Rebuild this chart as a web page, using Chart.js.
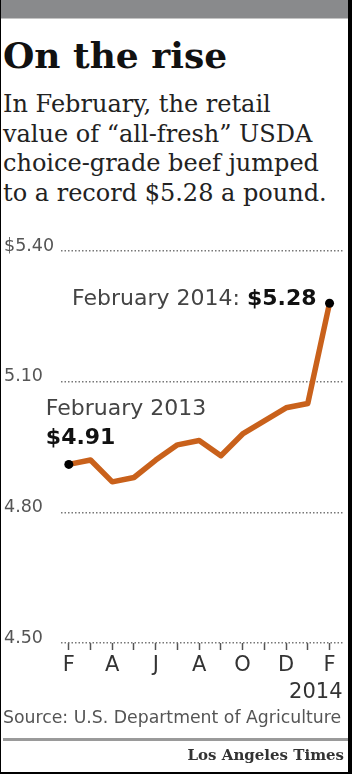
<!DOCTYPE html>
<html>
<head>
<meta charset="utf-8">
<script src="https://cdn.jsdelivr.net/npm/chart.js@4.4.0/dist/chart.umd.min.js"></script>
<style>
  html, body { margin: 0; padding: 0; background: #000; }
  #page { position: relative; width: 347px; height: 772px; background: #fff; border-left: 1px solid #000; overflow: hidden; }
  #bar { position: absolute; left: 0; top: 0; width: 347px; height: 18px; background: #898a8c; border-bottom: 1px solid #c4c4c4; }
  .t { position: absolute; white-space: nowrap; }
  #title { left: 2px; top: 33px; font-family: "DejaVu Serif", serif; font-weight: bold; font-size: 36px; line-height: 44px; color: #111; }
  #sub { left: 2px; top: 90px; font-family: "DejaVu Serif", serif; font-size: 24px; line-height: 29.6px; color: #222; }
  #chartBox { position: absolute; left: -1px; top: 230px; width: 352px; height: 480px; }
  #source { left: 2px; top: 707px; font-family: "DejaVu Sans", sans-serif; font-size: 17.3px; color: #555; }
  #rule { position: absolute; left: 2px; top: 738px; width: 345px; height: 3px; background: #9a9a9a; }
  #lat { right: 4px; top: 746px; font-family: "DejaVu Serif", serif; font-weight: bold; font-size: 15px; color: #333; }
</style>
</head>
<body>
<div id="page">
  <div id="bar"></div>
  <div id="title" class="t">On the rise</div>
  <div id="sub" class="t">In February, the retail<br>value of “all-fresh” USDA<br>choice-grade beef jumped<br>to a record $5.28 a pound.</div>
  <div id="chartBox"><canvas id="c" width="352" height="480"></canvas></div>
  <div id="source" class="t">Source: U.S. Department of Agriculture</div>
  <div id="rule"></div>
  <div id="lat" class="t">Los Angeles Times</div>
</div>
<script>
// Data: monthly retail value, Feb 2013 – Feb 2014 ($ per pound)
const months = ['Feb 2013','Mar','Apr','May','Jun','Jul','Aug','Sep','Oct','Nov','Dec','Jan','Feb 2014'];
const values = [4.91, 4.92, 4.87, 4.88, 4.92, 4.955, 4.965, 4.93, 4.98, 5.01, 5.04, 5.05, 5.28];
const xTickLabels = ['F','','A','','J','','A','','O','','D','','F'];
const yTickValues = [4.50, 4.80, 5.10, 5.40];
const yTickLabels = ['4.50', '4.80', '5.10', '$5.40'];
const startLabel = ['February 2013', '$4.91'];
const endLabel = ['February 2014: ', '$5.28'];
const yearLabel = '2014';

const SANS = '"DejaVu Sans", sans-serif';

const annotations = {
  id: 'annotations',
  afterDatasetsDraw(chart) {
    const ctx = chart.ctx;
    const pts = chart.getDatasetMeta(0).data;
    const p0 = pts[0], pN = pts[pts.length - 1];
    ctx.save();
    ctx.textBaseline = 'alphabetic';
    // start label
    ctx.textAlign = 'left';
    ctx.font = '22px ' + SANS;
    ctx.fillStyle = '#444';
    ctx.fillText(startLabel[0], p0.x - 23, p0.y - 49);
    ctx.font = 'bold 22px ' + SANS;
    ctx.fillStyle = '#111';
    ctx.fillText(startLabel[1], p0.x - 23, p0.y - 20);
    // end label
    ctx.textAlign = 'right';
    ctx.font = 'bold 22px ' + SANS;
    const wBold = ctx.measureText(endLabel[1]).width;
    const right = pN.x - 13;
    ctx.fillStyle = '#111';
    ctx.fillText(endLabel[1], right, pN.y + 1.5);
    ctx.font = '22px ' + SANS;
    ctx.fillStyle = '#444';
    ctx.fillText(endLabel[0], right - wBold, pN.y + 1.5);
    // year under last tick
    const xs = chart.scales.x;
    ctx.font = '21px ' + SANS;
    ctx.fillStyle = '#333';
    ctx.textAlign = 'right';
    ctx.fillText(yearLabel, xs.getPixelForValue(months.length - 1) + 13, chart.chartArea.bottom + 55);
    ctx.restore();
  }
};

new Chart(document.getElementById('c'), {
  type: 'line',
  data: {
    datasets: [{
      data: values.map((v, i) => ({ x: i, y: v })),
      borderColor: '#c9611b',
      borderWidth: 5.5,
      tension: 0,
      borderJoinStyle: 'round',
      pointRadius: (c) => (c.dataIndex === 0 || c.dataIndex === values.length - 1) ? 4.5 : 0,
      pointBackgroundColor: '#000',
      pointBorderWidth: 0,
      clip: false
    }]
  },
  options: {
    responsive: false,
    animation: false,
    devicePixelRatio: 1,
    layout: { padding: { top: 21, right: 9, bottom: 27, left: 4 } },
    plugins: { legend: { display: false }, tooltip: { enabled: false } },
    scales: {
      x: {
        type: 'linear',
        min: -0.36,
        max: 12.62,
        afterBuildTicks: (s) => { s.ticks = months.map((_, i) => ({ value: i })); },
        afterFit: (s) => { s.height = 40; },
        border: { display: false },
        grid: { drawOnChartArea: false, drawTicks: true, tickLength: 7, tickColor: '#555', tickWidth: 1.5 },
        ticks: {
          autoSkip: false, maxRotation: 0, padding: 3,
          color: '#333', font: { family: SANS, size: 21 },
          callback: (v) => xTickLabels[v] ?? ''
        }
      },
      y: {
        min: 4.5,
        max: 5.4,
        afterBuildTicks: (s) => { s.ticks = yTickValues.map(v => ({ value: v })); },
        afterFit: (s) => { s.width = 57; },
        border: { display: false, dash: [1.5, 2] },
        grid: { drawTicks: false, color: '#777', lineWidth: 1.5 },
        ticks: {
          crossAlign: 'far', padding: 0, labelOffset: -5,
          color: '#555', font: { family: SANS, size: 17.5 },
          callback: (v, i) => yTickLabels[i]
        }
      }
    }
  },
  plugins: [annotations]
});
</script>
</body>
</html>
